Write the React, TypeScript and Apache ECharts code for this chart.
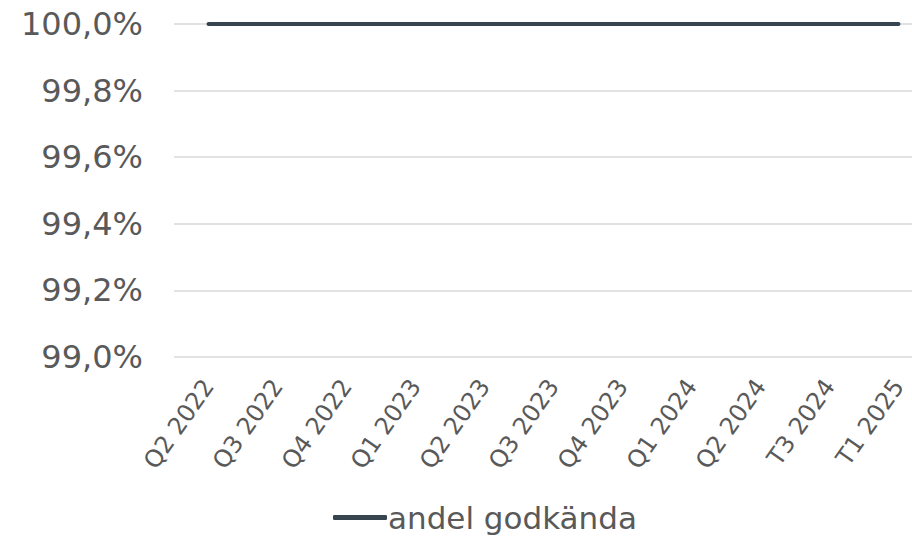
import React, { useEffect, useRef } from "react";
import * as echarts from "echarts";

const categories = [
  "Q2 2022", "Q3 2022", "Q4 2022", "Q1 2023", "Q2 2023", "Q3 2023",
  "Q4 2023", "Q1 2024", "Q2 2024", "T3 2024", "T1 2025",
];
const andelGodkanda = [100, 100, 100, 100, 100, 100, 100, 100, 100, 100, 100];
const seriesName = "andel godkända";

export default function App() {
  const ref = useRef<HTMLDivElement>(null);
  useEffect(() => {
    if (!ref.current) return;
    const chart = echarts.init(ref.current, null, { renderer: "svg" });
    const font = "Verdana, 'DejaVu Sans', sans-serif";
    chart.setOption({
      animation: false,
      backgroundColor: "#ffffff",
      grid: { left: 174, right: 27, top: 24, bottom: 183, containLabel: false },
      xAxis: {
        type: "category",
        data: categories,
        boundaryGap: true,
        axisLine: { show: false },
        axisTick: { show: false },
        axisLabel: {
          rotate: 55,
          interval: 0,
          margin: 25,
          color: "#595959",
          fontFamily: font,
          fontSize: 24,
        },
      },
      yAxis: {
        type: "value",
        min: 99,
        max: 100,
        interval: 0.2,
        axisLine: { show: false },
        axisTick: { show: false },
        splitLine: { lineStyle: { color: "#d9d9d9", width: 1.5 } },
        axisLabel: {
          margin: 31,
          color: "#595959",
          fontFamily: font,
          fontSize: 32,
          formatter: (v: number) => v.toFixed(1).replace(".", ",") + "%",
        },
      },
      legend: {
        left: 328,
        bottom: 2,
        icon: "roundRect",
        itemWidth: 54,
        itemHeight: 5,
        itemGap: 5,
        textStyle: { color: "#595959", fontFamily: font, fontSize: 31, padding: [0, 0, 0, -4] },
        data: [seriesName],
      },
      series: [
        {
          name: seriesName,
          type: "line",
          data: andelGodkanda,
          clip: false,
          showSymbol: false,
          symbol: "none",
          color: "#36454f",
          lineStyle: { color: "#36454f", width: 4, cap: "round" },
        },
      ],
    });
    return () => chart.dispose();
  }, []);
  return (
    <div style={{ position: "fixed", left: 0, top: 0, width: 912, height: 540, overflow: "hidden", background: "#fff" }}>
      <div ref={ref} style={{ width: 960, height: 540 }} />
    </div>
  );
}
